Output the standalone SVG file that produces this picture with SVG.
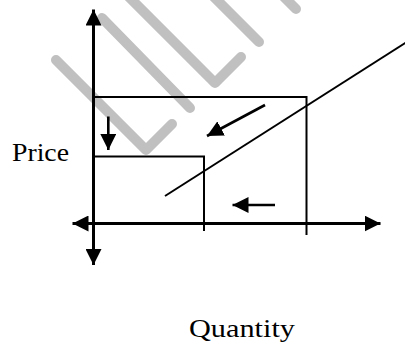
<svg xmlns="http://www.w3.org/2000/svg" width="405" height="345" viewBox="0 0 405 345">
  <style>
    .wm { fill: none; stroke: #c0c0c0; stroke-width: 10; stroke-linecap: round; stroke-linejoin: round; }
    .axis { stroke: #000; stroke-width: 3; fill: none; }
    .thin { stroke: #000; stroke-width: 2; fill: none; }
    .arr { stroke: #000; stroke-width: 2.6; fill: none; }
    .lbl { font-family: "Liberation Serif", "Times New Roman", serif; font-size: 26px; fill: #000; }
  </style>
  <defs>
    <marker id="head" viewBox="0 0 16 16" refX="16" refY="8" markerWidth="16" markerHeight="16" markerUnits="userSpaceOnUse" orient="auto-start-reverse">
      <path d="M0,0 L16,8 L0,16 Z" fill="#000"/>
    </marker>
  </defs>
  <rect width="405" height="345" fill="#fff"/>
  <g id="watermark">
    <polyline class="wm" points="56,60 146,150 172,124"/>
    <polyline class="wm" points="102,18 190,108"/>
    <polyline class="wm" points="128,-4 215,83 241,57"/>
    <polyline class="wm" points="212,-5 259,42"/>
    <polyline class="wm" points="284,-3 296,9"/>
  </g>
  <g id="connectors">
    <line id="price-axis" class="axis" x1="93.5" y1="265" x2="93.5" y2="9.5" marker-start="url(#head)" marker-end="url(#head)"/>
    <line id="quantity-axis" class="axis" x1="72.5" y1="223.5" x2="380.5" y2="223.5" marker-start="url(#head)" marker-end="url(#head)"/>
    <polyline id="big-rect" class="thin" points="93.5,97 306.5,97 306.5,235"/>
    <polyline id="small-rect" class="thin" points="93.5,156.5 204,156.5 204,231"/>
    <line id="supply" class="thin" x1="165" y1="196" x2="406" y2="42.5"/>
    <line id="arrow-down" class="arr" x1="108.3" y1="116.5" x2="108.3" y2="150" marker-end="url(#head)"/>
    <line id="arrow-diag" class="arr" x1="265" y1="105" x2="207" y2="136" marker-end="url(#head)"/>
    <line id="arrow-left" class="arr" x1="275" y1="205" x2="232.5" y2="205" marker-end="url(#head)"/>
  </g>
  <g id="label-price">
    <text class="lbl" x="12" y="161" textLength="57" lengthAdjust="spacingAndGlyphs">Price</text>
  </g>
  <g id="label-quantity">
    <text class="lbl" x="189" y="337" textLength="106" lengthAdjust="spacingAndGlyphs">Quantity</text>
  </g>
</svg>
